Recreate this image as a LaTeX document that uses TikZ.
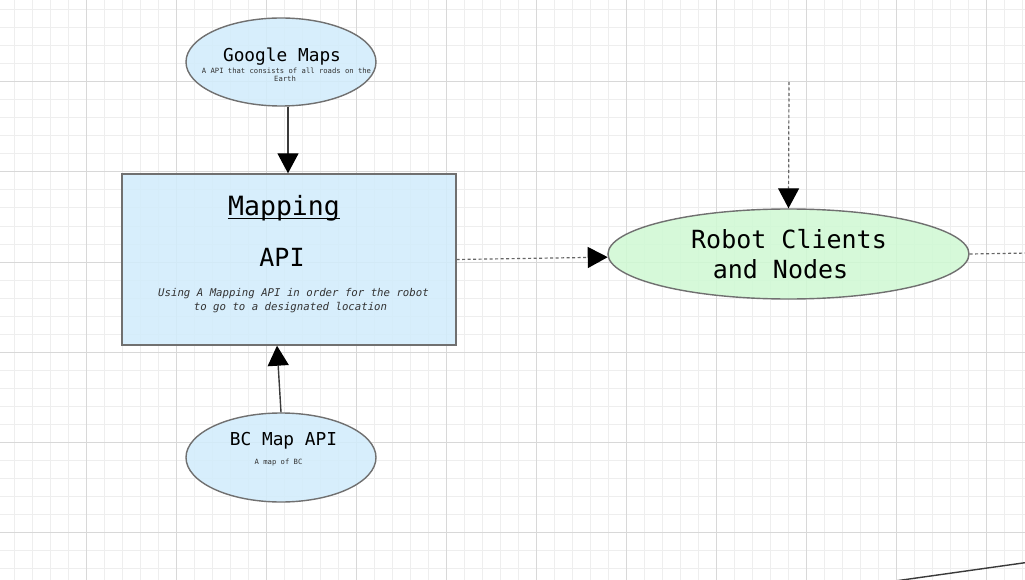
\documentclass[tikz,border=0pt]{standalone}
\usepackage{fontspec}
\newfontfamily\mono{DejaVu Sans Mono}
\usetikzlibrary{arrows.meta,shapes.geometric}
\definecolor{gridminor}{HTML}{EEEEEE}
\definecolor{gridmajor}{HTML}{D8D8D8}
\definecolor{bluefill}{RGB}{209,236,252}
\definecolor{greenfill}{RGB}{207,249,211}
\definecolor{shapeline}{HTML}{707070}
\definecolor{linkgray}{HTML}{3A3A3A}
\definecolor{dotgray}{HTML}{666666}
\definecolor{subtext}{HTML}{333333}
\begin{document}
\begin{tikzpicture}[x=1pt,y=-1pt,
  minorgrid/.style={draw=gridminor, line width=1pt},
  majorgrid/.style={draw=gridmajor, line width=1pt},
  shapeel/.style={ellipse, draw=shapeline, line width=1.4pt, fill opacity=0.85, inner sep=0pt},
  bluebox/.style={rectangle, draw=shapeline, line width=1.4pt, fill=bluefill, fill opacity=0.85, inner sep=0pt},
  tip/.style={-{Triangle[length=20pt,width=21pt,color=black]}},
  solidlink/.style={tip, draw=linkgray, line width=1.4pt},
  dotlink/.style={draw=dotgray, line width=1.2pt, dash pattern=on 3pt off 2.5pt},
  lbl/.style={inner sep=0pt, anchor=base, text=black},
  title/.style={lbl, font=\mono\fontsize{17.8}{21}\selectfont},
  big/.style={lbl, font=\mono\fontsize{25}{30}\selectfont},
  tiny/.style={lbl, font=\mono\fontsize{7.2}{8.6}\selectfont, text=subtext},
  ital/.style={lbl, font=\mono\itshape\fontsize{10.7}{13}\selectfont, text=subtext}
]
\useasboundingbox (0,0) rectangle (1025,580);
\clip (0,0) rectangle (1025,580);
\fill[white] (0,0) rectangle (1025,580);
% grid
\foreach \x in {14,32,...,1024} \draw[minorgrid] (\x,0) -- (\x,580);
\foreach \y in {10,28,...,580} \draw[minorgrid] (0,\y) -- (1025,\y);
\foreach \x in {86,176,...,1024} \draw[majorgrid] (\x,0) -- (\x,580);
\foreach \y in {82,172,...,580} \draw[majorgrid] (0,\y) -- (1025,\y);

% shapes
\node[shapeel, fill=bluefill, minimum width=190pt, minimum height=88pt] (gm) at (281,62) {};
\node[bluebox, minimum width=334pt, minimum height=171pt] (map) at (289,259.5) {};
\node[shapeel, fill=bluefill, minimum width=190pt, minimum height=89pt] (bc) at (281,457.5) {};
\node[shapeel, fill=greenfill, minimum width=361pt, minimum height=90pt] (rob) at (788.5,254) {};

% texts
\node[title] (gmt) at (282,61.7) {Google Maps};
\node[tiny] (gms1) at (286.5,74) {A API that consists of all roads on the};
\node[tiny] (gms2) at (285,82) {Earth};
\node[lbl, font=\mono\fontsize{26.5}{31}\selectfont] (mpt) at (284,215) {Mapping};
\draw[black, line width=1.6pt] ([yshift=-3.5pt]mpt.base west) -- ([yshift=-3.5pt]mpt.base east);
\node[big] (api) at (282,266) {API};
\node[ital] (mps1) at (293.5,296.7) {Using A Mapping API in order for the robot};
\node[ital] (mps2) at (290.5,310) {to go to a designated location};
\node[title] (bct) at (283.5,445) {BC Map API};
\node[tiny] (bcs) at (278.5,464) {A map of BC};
\node[big] (rob1) at (789,248.3) {Robot Clients};
\node[big] (rob2) at (780.5,278.3) {and Nodes};

% connectors
\coordinate (topin) at (789,82);
\coordinate (rightout) at (1030,253);
\coordinate (brA) at (895,581);
\coordinate (brB) at (1030,562);
\draw[solidlink] ([xshift=7pt]gm.south) -- ([xshift=-1pt]map.north);
\draw[solidlink] (bc.north) -- ([xshift=-12pt]map.south);
\draw[dotlink, tip] (map.east) -- (rob.181);
\draw[dotlink, tip] (topin) -- (rob.north);
\draw[dotlink] (rob.east) -- (rightout);
\draw[draw=linkgray, line width=1.4pt] (brA) -- (brB);
\end{tikzpicture}
\end{document}
